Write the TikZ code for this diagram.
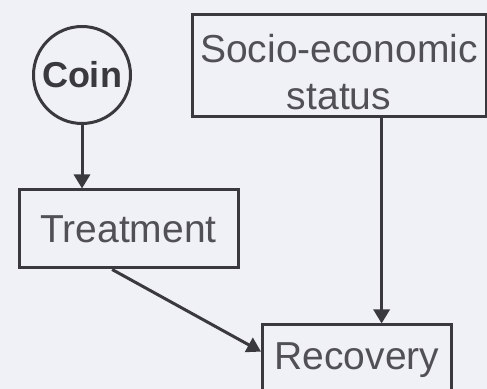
\documentclass[tikz,border=0pt]{standalone}
\usepackage{fontspec}
\setmainfont{Liberation Sans}
\usetikzlibrary{arrows.meta, calc}
\usepackage{xcolor}
\definecolor{paper}{RGB}{240,241,246}
\definecolor{ink}{RGB}{58,58,62}
\definecolor{print}{RGB}{80,80,86}

\begin{document}
\begin{tikzpicture}[x=0.5pt, y=-0.5pt,
        box/.style={draw=ink, line width=1.5pt, inner sep=0pt, text=print,
            font=\fontsize{19.5}{23.5}\selectfont},
        arr/.style={draw=ink, line width=1.5pt, -{Triangle[length=7pt, width=8pt]}}]
        % Paper
        \fill[paper] (0,0) rectangle (487,389);
        \useasboundingbox (0,0) rectangle (487,389);
        \clip (0,0) rectangle (487,389);

        % Coin and treatment
        \node[box, circle, minimum size=48.5pt, text=ink,
            font=\fontsize{18}{21}\selectfont\bfseries] (coin) at (82,75) {Coin};
        \node[box, minimum width=109.5pt, minimum height=39pt] (treat) at (128.5,229) {Treatment};

        % Confounder (text sits low in its box)
        \node[box, minimum width=147pt, minimum height=51pt, align=center,
            text height=43.8pt] (ses) at (339,66) {Socio-economic\\status};

        % Outcome (runs past the lower edge)
        \node[box, minimum width=94.5pt, minimum height=35pt] (rec) at (357,360) {Recovery};

        % Arrows
        \draw[arr] (coin.south) -- (coin.south |- treat.north);
        \draw[arr] (ses.south -| rec.56) -- (rec.56);
        \draw[arr] (treat.-112) -- (rec.175);
\end{tikzpicture}
\end{document}
